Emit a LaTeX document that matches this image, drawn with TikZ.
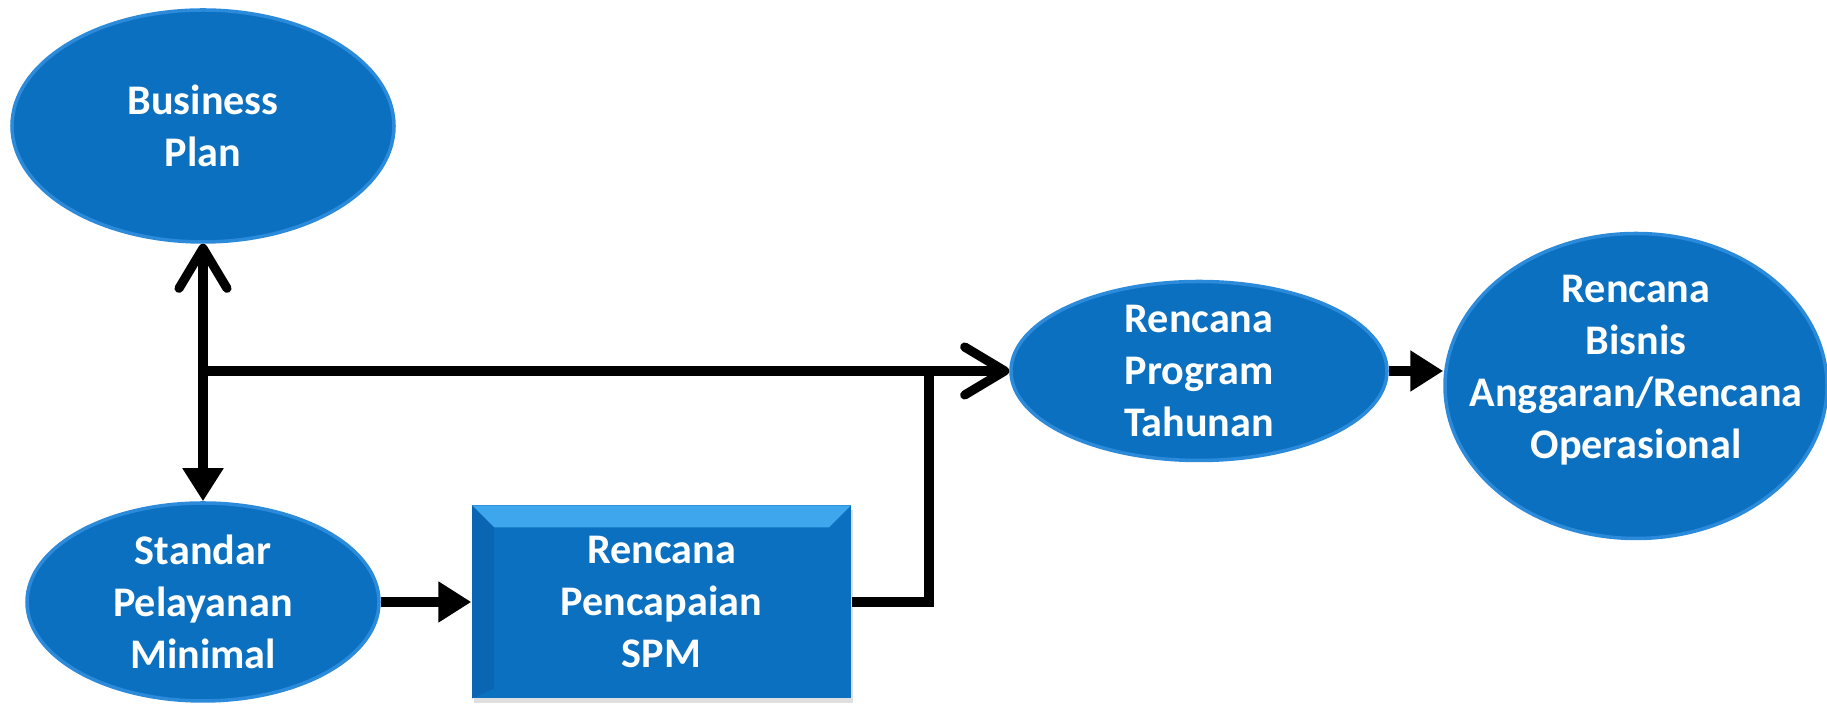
\documentclass[tikz,border=0pt]{standalone}
\usepackage{fontspec}
\setmainfont{Carlito}
\usetikzlibrary{arrows.meta,shapes.geometric,calc,shadows}

\definecolor{planblue}{RGB}{12,112,192}
\definecolor{planrim}{RGB}{44,138,218}
\definecolor{bevellight}{RGB}{62,166,236}
\definecolor{beveldark}{RGB}{10,102,178}

\tikzset{
  bubble/.style={ellipse, fill=planblue, draw=planrim, line width=1pt, inner sep=0pt},
  caption/.style={text=white, font=\bfseries\fontsize{12}{14.8}\selectfont, align=center},
  bevelbox/.style={rectangle, fill=planblue, inner sep=0pt,
    drop shadow={opacity=0.25, shadow xshift=0.02, shadow yshift=-0.05},
    path picture={
      \fill[bevellight] (path picture bounding box.north west) -- (path picture bounding box.north east)
        -- ($(path picture bounding box.north east)+(-0.22,-0.22)$) -- ($(path picture bounding box.north west)+(0.22,-0.22)$) -- cycle;
      \fill[beveldark] (path picture bounding box.north west) -- ($(path picture bounding box.north west)+(0.22,-0.22)$)
        -- ($(path picture bounding box.south west)+(0.22,0.1)$) -- (path picture bounding box.south west) -- cycle;
    }},
  flowline/.style={line width=2.6pt, line join=miter},
  barb/.tip={Straight Barb[length=4mm,width=4.8mm,round]},
  wedge/.tip={Triangle[length=3.3mm,width=3.9mm]}
}

\begin{document}
\begin{tikzpicture}
\useasboundingbox (0,0) rectangle (18.27,7.05);

% ellipses and box %
\node[bubble, minimum width=3.82cm, minimum height=2.32cm,
  label={[caption]center:Business\\Plan}] (bp) at (2.03,5.79) {};
\node[bubble, minimum width=3.52cm, minimum height=1.98cm,
  label={[caption]center:Standar\\Pelayanan\\Minimal}] (spm) at (2.03,1.03) {};
\node[bevelbox, caption, minimum width=3.79cm, minimum height=1.93cm] (rps) at (6.615,1.03) {Rencana\\Pencapaian\\SPM};
\node[bubble, minimum width=3.76cm, minimum height=1.79cm,
  label={[caption]center:Rencana\\Program\\Tahunan}] (rpt) at (11.99,3.34) {};
\node[bubble, minimum width=3.82cm, minimum height=3.05cm,
  label={[caption, yshift=0.16cm]center:Rencana\\Bisnis\\Anggaran/Rencana\\Operasional}] (rb) at (16.36,3.19) {};

% junctions %
\coordinate (j) at (bp.south |- rpt.west);
\coordinate (fork) at (9.29,3.34);

% connectors %
\draw[flowline, barb-wedge] (bp.south) -- (spm.north);
\draw[flowline, -barb] (j) -- (rpt.west);
\draw[flowline, -wedge] (spm.east) -- (rps.west);
\draw[flowline] (rps.east) -| (fork);
\draw[flowline, -wedge] (rpt.east) -- (rpt.east -| rb.west);
\end{tikzpicture}
\end{document}
